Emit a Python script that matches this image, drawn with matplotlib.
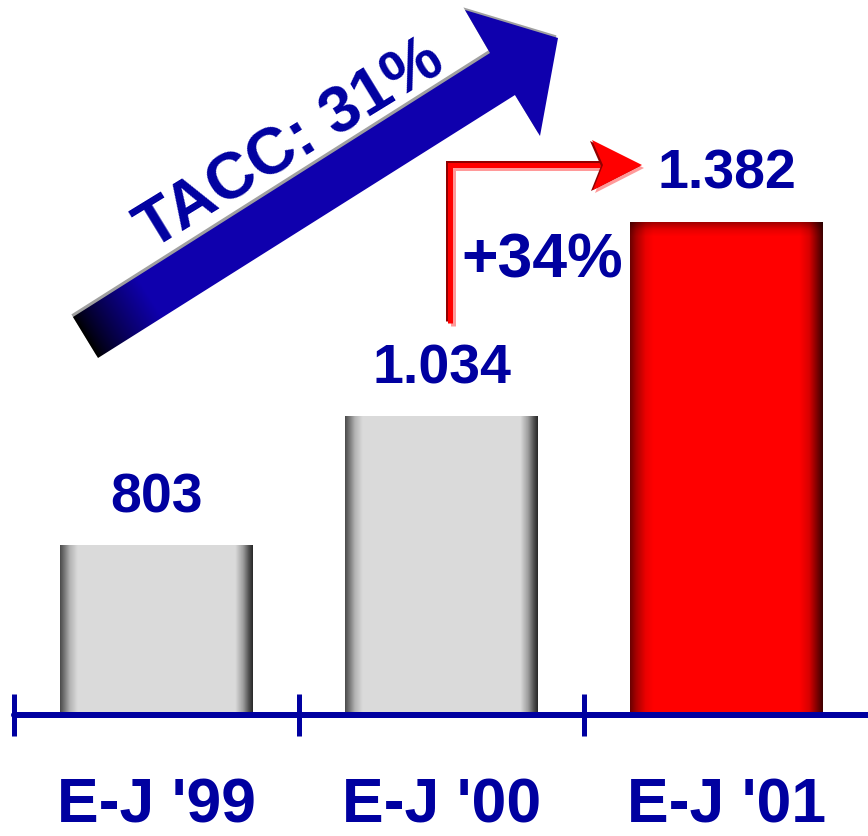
import numpy as np
import matplotlib
matplotlib.use("Agg")
import matplotlib.pyplot as plt
from matplotlib.patches import Polygon

# data
categories = ["E-J '99", "E-J '00", "E-J '01"]
values = [803, 1034, 1382]
value_labels = ["803", "1.034", "1.382"]
growth_label = "+34%"
cagr_label = "TACC: 31%"

plt.rcParams["font.family"] = ["Liberation Sans", "DejaVu Sans"]
BLUE = "#0000a0"

W, H = 868, 836
PX = 0.72  # points per pixel at dpi 100
base = 504
scale = 0.5584  # pixels per unit

fig = plt.figure(figsize=(W / 100, H / 100), dpi=100)
ax = fig.add_axes([0, 121 / H, 1, 715 / H])
ymin = base - 3 / scale
ax.set_xlim(-0.549, 2.496)
ax.set_ylim(ymin, ymin + 715 / scale)

x = np.arange(len(values))
bw = 0.677
bars = ax.bar(x, np.array(values) - base, bottom=base, width=bw, color="none", edgecolor="none")

# gradient fills
n = 300
t = np.linspace(0, 1, n)
gray = np.interp(t, [0, 0.02, 0.05, 0.09, 0.91, 0.95, 0.98, 1.0],
                 [0.30, 0.45, 0.70, 0.855, 0.855, 0.62, 0.32, 0.16])
gray_img = np.dstack([gray, gray, gray]).repeat(2, axis=0)

redx = np.interp(t, [0, 0.03, 0.08, 0.12, 0.88, 0.93, 0.97, 1.0],
                 [0.42, 0.65, 0.92, 1.0, 1.0, 0.85, 0.5, 0.25])
ty = np.linspace(0, 1, 400)
redy = np.interp(ty, [0, 0.006, 0.016, 0.03, 1.0], [0.6, 0.72, 0.9, 1.0, 1.0])
f = redy[:, None] * redx[None, :]
red_img = np.dstack([f, np.zeros_like(f), np.zeros_like(f)])

for i, b in enumerate(bars):
    img = red_img if i == 2 else gray_img
    x0 = b.get_x()
    im = ax.imshow(img, extent=(x0, x0 + bw, base, values[i]), origin="upper",
                   aspect="auto", interpolation="bilinear", zorder=2)
    im.set_clip_path(b)
    ax.annotate(value_labels[i], (x[i], values[i]), xytext=(0, 33 * PX),
                textcoords="offset points", ha="center", va="baseline",
                fontsize=40, fontweight="bold", color=BLUE)

ax.set_xlim(-0.549, 2.496)
ax.set_ylim(ymin, ymin + 715 / scale)

# axis line and ticks
for s in ["top", "left", "right"]:
    ax.spines[s].set_visible(False)
ax.spines["bottom"].set_color(BLUE)
ax.spines["bottom"].set_linewidth(6 * PX)
ax.spines["bottom"].set_bounds(-0.5, 2.496)
ax.spines["bottom"].set_capstyle("round")
ax.spines["bottom"].set_zorder(3)
ax.set_yticks([])
ax.set_xticks(x)
ax.set_xticklabels(categories, fontsize=45, fontweight="bold", color=BLUE)
ax.set_xticks([-0.5, 0.5, 1.5], minor=True)
ax.tick_params(axis="x", which="major", length=0, pad=44)
ax.tick_params(axis="x", which="minor", direction="inout", length=43 * PX,
               width=5 * PX, color=BLUE)
ax.patch.set_alpha(0)

# overlay in pixel space for the arrows
ov = fig.add_axes([0, 0, 1, 1], zorder=5)
ov.set_xlim(0, W)
ov.set_ylim(H, 0)
ov.axis("off")

arrow_pts = np.array([(98, 358), (73, 317), (490, 53), (465, 10),
                      (558, 38), (540, 136), (515, 95)], dtype=float)
ov.add_patch(Polygon(arrow_pts + [-1.6, -2.6], closed=True, facecolor="#a0a0a0",
                     edgecolor="none", zorder=1))
clip = Polygon(arrow_pts, closed=True, facecolor="none", edgecolor="none")
ov.add_patch(clip)
gx = np.linspace(73, 558, 400)
gy = np.linspace(10, 358, 300)
GX, GY = np.meshgrid(gx, gy)
d = np.array([0.845, -0.535])
proj = (GX - 73) * d[0] + (GY - 317) * d[1]
k = np.clip(proj / 75, 0, 1) ** 0.8
blue = np.array([0.06, 0.0, 0.68])
arrow_img = k[:, :, None] * blue[None, None, :]
aim = ov.imshow(arrow_img, extent=(73, 558, 358, 10), origin="upper",
                aspect="auto", interpolation="bilinear", zorder=2)
aim.set_clip_path(clip)
ov.set_xlim(0, W)
ov.set_ylim(H, 0)

ov.text(300, 160, cagr_label, rotation=31.5, rotation_mode="anchor",
        ha="center", va="baseline", fontsize=47, fontweight="bold", color=BLUE,
        zorder=3)

# red elbow arrow
ex = np.array([450, 450, 604])
ey = np.array([323, 165, 165])
ov.plot(ex - 2.5, ey - 2.5, color="#900000", lw=5 * PX, solid_joinstyle="miter",
        solid_capstyle="butt", zorder=3)
ov.plot(ex + 2.5, ey + 2.5, color="#ff9a9a", lw=5 * PX, solid_joinstyle="miter",
        solid_capstyle="butt", zorder=3)
ov.plot(ex, ey, color="#ff0000", lw=5 * PX, solid_joinstyle="miter",
        solid_capstyle="butt", zorder=3)
head = np.array([(592, 140), (642, 165), (593, 190), (603, 165)], dtype=float)
ov.add_patch(Polygon(head + [2, 3], closed=True, facecolor="#ff9a9a", edgecolor="none", zorder=3))
ov.add_patch(Polygon(head + [-2, 1], closed=True, facecolor="#900000", edgecolor="none", zorder=3))
ov.add_patch(Polygon(head, closed=True, facecolor="#ff0000", edgecolor="none", zorder=3))

ov.text(542, 277, growth_label, ha="center", va="baseline", fontsize=45,
        fontweight="bold", color=BLUE, zorder=3)

fig.savefig("out.png", dpi=100)
